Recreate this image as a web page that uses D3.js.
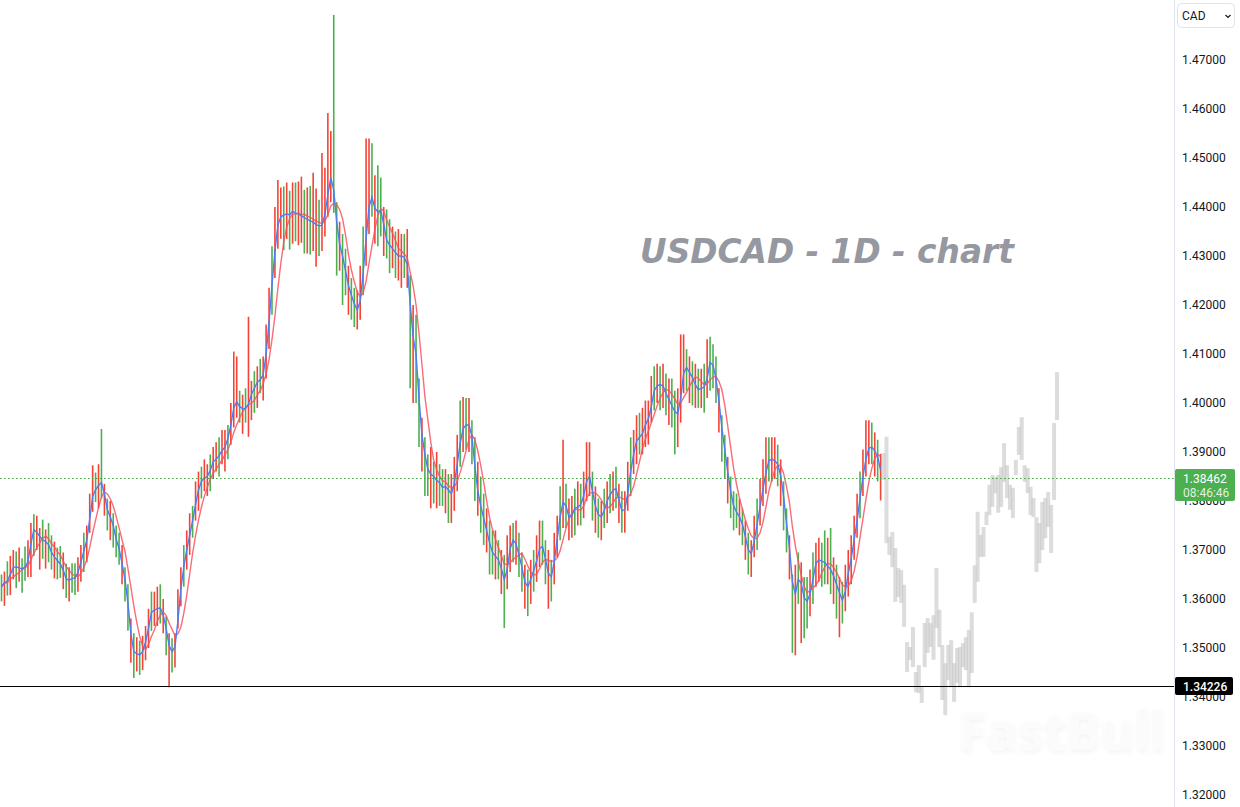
<!DOCTYPE html>
<html>
<head>
<meta charset="utf-8">
<script src="https://cdn.jsdelivr.net/npm/d3@7.9.0/dist/d3.min.js"></script>
<style>
  html, body { margin: 0; padding: 0; background: #fff; }
  svg { display: block; }
</style>
</head>
<body>
<svg id="chart" width="1240" height="807"></svg>
<script>
// ---------------------------------------------------------------------------
// Data
// ---------------------------------------------------------------------------
// daily closes, oldest first
const closes = [
  1.3625,1.3641,1.3632,1.3668,1.3660,1.3672,1.3655,1.3668,1.3662,1.3690,
  1.3735,1.3748,1.3725,1.3730,1.3712,1.3722,1.3700,1.3690,1.3682,1.3675,
  1.3668,1.3650,1.3632,1.3645,1.3638,1.3648,1.3660,1.3690,1.3705,1.3735,
  1.3790,1.3828,1.3818,1.3845,1.3830,1.3800,1.3765,1.3770,1.3730,1.3715,
  1.3690,1.3655,1.3625,1.3560,1.3500,1.3485,1.3492,1.3480,1.3505,1.3520,
  1.3560,1.3585,1.3570,1.3590,1.3575,1.3560,1.3520,1.3490,1.3495,1.3510,
  1.3600,1.3640,1.3690,1.3710,1.3750,1.3770,1.3815,1.3830,1.3850,1.3845,
  1.3855,1.3870,1.3890,1.3880,1.3905,1.3900,1.3920,1.3935,1.3975,1.4005,
  1.4000,1.3985,1.3992,1.3985,1.4010,1.4025,1.4035,1.4050,1.4045,1.4070,
  1.4130,1.4200,1.4280,1.4340,1.4385,1.4375,1.4392,1.4380,1.4388,1.4395,
  1.4380,1.4392,1.4372,1.4385,1.4365,1.4378,1.4360,1.4368,1.4355,1.4370,
  1.4400,1.4450,1.4470,1.4400,1.4340,1.4310,1.4290,1.4250,1.4230,1.4210,
  1.4195,1.4185,1.4230,1.4300,1.4370,1.4430,1.4410,1.4385,1.4395,1.4390,
  1.4340,1.4325,1.4320,1.4310,1.4305,1.4295,1.4305,1.4290,1.4275,1.4130,
  1.4140,1.4060,1.3960,1.3910,1.3880,1.3850,1.3860,1.3840,1.3845,1.3830,
  1.3825,1.3835,1.3810,1.3820,1.3850,1.3900,1.3935,1.3960,1.3950,1.3960,
  1.3905,1.3840,1.3800,1.3780,1.3750,1.3730,1.3700,1.3690,1.3685,1.3675,
  1.3650,1.3630,1.3690,1.3715,1.3725,1.3700,1.3680,1.3650,1.3620,1.3630,
  1.3650,1.3665,1.3690,1.3715,1.3700,1.3665,1.3640,1.3650,1.3700,1.3745,
  1.3790,1.3805,1.3775,1.3760,1.3780,1.3790,1.3785,1.3800,1.3820,1.3860,
  1.3840,1.3800,1.3780,1.3765,1.3770,1.3790,1.3810,1.3815,1.3830,1.3820,
  1.3785,1.3775,1.3790,1.3840,1.3880,1.3910,1.3935,1.3925,1.3950,1.3960,
  1.3975,1.4010,1.4040,1.4030,1.4045,1.4025,1.4015,1.4000,1.3990,1.3975,
  1.3980,1.4040,1.4080,1.4065,1.4060,1.4045,1.4030,1.4025,1.4035,1.4030,
  1.4070,1.4095,1.4060,1.4040,1.3970,1.3930,1.3880,1.3840,1.3800,1.3780,
  1.3775,1.3760,1.3745,1.3710,1.3690,1.3695,1.3740,1.3765,1.3810,1.3840,
  1.3875,1.3890,1.3880,1.3885,1.3865,1.3840,1.3780,1.3730,1.3680,1.3590,
  1.3630,1.3650,1.3615,1.3590,1.3600,1.3620,1.3660,1.3685,1.3675,1.3680,
  1.3670,1.3665,1.3655,1.3640,1.3620,1.3605,1.3590,1.3640,1.3665,1.3700,
  1.3740,1.3780,1.3830,1.3870,1.3900,1.3915,1.3905,1.3900,1.3880,1.3846
];

// distance of the high above the close, in pips
const upPips = [
  25,15,45,20,40,25,50,15,45,30,
  20,25,45,15,50,20,55,40,35,30,
  40,45,40,20,35,25,25,20,30,15,
  25,45,40,30,117,35,40,30,45,35,
  45,55,40,70,60,45,30,35,20,25,
  20,30,45,35,55,40,45,40,25,20,
  20,25,20,30,25,20,25,30,20,40,
  20,25,20,40,25,45,25,20,25,100,
  95,40,25,45,166,20,30,25,45,25,
  30,35,40,60,70,65,50,70,45,55,
  70,60,90,50,75,65,110,70,60,140,
  80,142,85,392,70,60,55,65,50,45,
  40,45,50,60,170,110,120,80,90,70,
  60,70,55,50,45,60,40,55,80,130,
  60,120,90,60,50,45,50,40,55,45,
  40,30,45,35,40,35,70,52,60,50,
  60,90,80,70,65,55,60,50,55,45,
  50,60,40,35,30,60,55,45,50,30,
  30,35,40,45,60,55,60,30,35,25,
  40,120,60,45,30,35,55,35,40,60,
  80,60,50,40,30,35,30,40,30,50,
  50,45,30,40,50,35,40,55,40,45,
  30,45,35,50,30,55,45,50,60,50,
  50,100,60,45,35,40,50,45,35,50,
  60,40,60,55,60,45,55,50,50,40,
  40,45,40,50,45,25,30,40,35,45,
  55,40,50,45,50,45,60,55,50,60,
  40,45,60,55,45,40,35,30,50,35,
  70,60,90,45,50,40,45,30,35,30,
  30,35,30,35,65,50,55,40,45,50
];

// distance of the low below the close, in pips
const downPips = [
  30,55,25,60,20,50,20,55,25,45,
  90,60,25,70,30,60,25,30,40,35,
  25,30,30,50,25,40,45,55,50,60,
  55,50,20,60,25,30,25,50,25,30,
  20,25,30,25,30,46,40,35,50,45,
  60,50,25,45,25,30,35,70,45,50,
  60,55,65,50,60,45,55,50,45,25,
  45,50,45,20,55,25,60,50,60,55,
  30,25,55,25,79,60,55,60,25,65,
  80,90,100,85,70,40,80,45,75,70,
  50,70,45,80,60,75,50,90,55,60,
  60,70,60,12,80,40,90,30,50,40,
  40,35,60,80,90,85,30,60,75,50,
  40,30,55,35,50,45,70,35,40,100,
  140,60,50,50,70,40,75,45,60,40,
  35,60,55,65,70,80,65,60,45,60,
  30,40,30,45,40,35,50,40,45,35,
  40,89,70,60,50,30,35,35,40,65,
  60,50,55,50,30,35,60,55,70,60,
  70,60,30,40,55,60,35,50,55,60,
  30,40,45,40,50,45,55,40,50,35,
  30,40,55,60,70,55,60,30,55,50,
  60,50,55,30,60,35,40,45,40,80,
  70,80,60,40,60,50,40,35,45,50,
  60,70,30,40,30,50,35,45,35,40,
  30,30,35,30,40,50,55,65,60,50,
  60,50,40,40,35,50,40,35,40,100,
  145,60,105,70,60,55,70,60,40,55,
  40,35,45,50,60,83,40,65,60,70,
  60,55,65,60,50,40,30,50,40,45
];

// 1 = bar drawn red (up day in this chart), 0 = green
const upDays = [
  0,1,0,1,1,0,1,0,0,1,
  1,0,1,1,0,1,0,0,1,0,
  0,1,0,1,0,0,1,1,0,1,
  1,1,0,1,0,1,0,1,0,0,
  0,1,0,0,1,0,1,0,1,1,
  1,0,1,1,0,1,0,1,0,1,
  1,1,0,1,1,0,1,1,0,1,
  1,0,1,1,0,1,1,0,1,1,
  1,0,1,0,1,1,0,1,0,1,
  1,1,0,1,1,1,0,1,0,1,
  0,1,1,0,1,0,1,1,0,1,
  1,1,1,0,0,1,0,0,1,0,
  0,1,1,0,1,1,0,1,0,0,
  1,0,0,1,0,1,1,0,1,0,
  1,0,0,1,0,0,1,0,1,0,
  0,1,0,1,1,1,0,1,0,1,
  0,0,1,0,0,1,0,0,1,0,
  1,0,1,1,0,1,0,0,1,0,
  1,0,1,1,0,0,1,0,1,1,
  0,1,0,1,1,0,1,0,1,1,
  1,0,1,0,1,0,1,0,1,0,
  1,0,1,1,0,1,1,0,1,1,
  1,1,0,1,0,1,0,1,0,0,
  1,1,1,0,1,0,1,0,1,0,
  1,0,0,0,1,0,0,1,0,0,
  0,1,0,1,0,1,1,0,1,1,
  1,0,1,1,0,1,0,0,1,0,
  1,0,1,0,0,1,0,1,1,0,
  0,1,0,1,0,1,0,1,1,1,
  1,1,0,1,1,1,0,1,0,1
];

// grey projected bars drawn to the right of the last real bar
const ghostHigh = [
  1.3898,1.3931,1.3727,1.3737,1.3704,1.3663,1.3659,1.3629,1.3512,1.3502,
  1.3543,1.3451,1.3465,1.3420,1.3551,1.3561,1.3551,1.3567,1.3663,1.3578,
  1.3506,1.3469,1.3506,1.3516,1.3469,1.3500,1.3502,1.3510,1.3522,1.3537,
  1.3573,1.3669,1.3778,1.3731,1.3747,1.3778,1.3833,1.3853,1.3849,1.3853,
  1.3869,1.3918,1.3873,1.3833,1.3827,1.3884,1.3951,1.3971,1.3873,1.3867,
  1.3829,1.3806,1.3767,1.3755,1.3798,1.3806,1.3818,1.3792,1.3959,1.4063
];
const ghostLow = [
  1.3843,1.3714,1.3690,1.3665,1.3594,1.3604,1.3592,1.3543,1.3451,1.3476,
  1.3461,1.3410,1.3408,1.3388,1.3461,1.3490,1.3502,1.3476,1.3541,1.3502,
  1.3394,1.3363,1.3435,1.3420,1.3390,1.3429,1.3420,1.3461,1.3455,1.3420,
  1.3449,1.3592,1.3635,1.3686,1.3686,1.3751,1.3771,1.3788,1.3816,1.3776,
  1.3788,1.3839,1.3806,1.3782,1.3765,1.3853,1.3894,1.3884,1.3839,1.3816,
  1.3771,1.3767,1.3655,1.3673,1.3700,1.3724,1.3747,1.3694,1.3802,1.3965
];

const priceTicks = [1.32, 1.33, 1.34, 1.35, 1.36, 1.37, 1.38, 1.39,
                    1.40, 1.41, 1.42, 1.43, 1.44, 1.45, 1.46, 1.47];

const lastPrice = 1.38462;
const lastTime = '08:46:46';
const levelPrice = 1.34226;
const currency = 'CAD';
const title = 'USDCAD - 1D - chart';

// moving average lengths
const fastLen = 2;
const slowLen = 6;

// ---------------------------------------------------------------------------
// Scales
// ---------------------------------------------------------------------------
const svg = d3.select('#chart');
const plotRight = 1174;

const y = d3.scaleLinear().domain([1.32, 1.47]).range([795, 60]);
const x = d3.scaleLinear().domain([0, closes.length - 1]).range([1.5, 880.6]);

const bars = closes.map((c, i) => ({
  i,
  close: c,
  high: c + upPips[i] / 10000,
  low: c - downPips[i] / 10000,
  rising: upDays[i] === 1
}));

const ghosts = ghostHigh.map((h, k) => ({ i: closes.length + k, high: h, low: ghostLow[k] }));

function sma(vals, n) {
  return vals.map((v, i) => d3.mean(vals.slice(Math.max(0, i - n + 1), i + 1)));
}
const fast = sma(closes, fastLen);
const slow = sma(closes, slowLen);

// ---------------------------------------------------------------------------
// Plot area
// ---------------------------------------------------------------------------
const defs = svg.append('defs');
defs.append('clipPath').attr('id', 'plot')
  .append('rect').attr('x', 0).attr('y', 0).attr('width', plotRight).attr('height', 807);

const shadow = defs.append('filter').attr('id', 'wm').attr('x', '-10%').attr('y', '-30%')
  .attr('width', '130%').attr('height', '160%');
shadow.append('feDropShadow').attr('dx', 0).attr('dy', 2).attr('stdDeviation', 2.5)
  .attr('flood-color', '#000').attr('flood-opacity', 0.05);

const plot = svg.append('g').attr('clip-path', 'url(#plot)');

// watermark
plot.append('text')
  .attr('x', 1166).attr('y', 750)
  .attr('text-anchor', 'end')
  .attr('font-family', '"Noto Sans", sans-serif')
  .attr('font-weight', 700)
  .attr('font-size', 52)
  .attr('fill', '#fbfbfb')
  .attr('filter', 'url(#wm)')
  .text('FastBull');

// grey projection
plot.append('g').selectAll('rect')
  .data(ghosts)
  .join('rect')
  .attr('x', d => x(d.i) - 2)
  .attr('width', 4)
  .attr('y', d => y(d.high))
  .attr('height', d => y(d.low) - y(d.high))
  .attr('fill', '#c4c4c4')
  .attr('fill-opacity', 0.6);

// daily bars (red = rising, green = falling as in the reference)
plot.append('g').selectAll('line')
  .data(bars)
  .join('line')
  .attr('x1', d => x(d.i)).attr('x2', d => x(d.i))
  .attr('y1', d => y(d.high)).attr('y2', d => y(d.low))
  .attr('stroke', d => d.rising ? '#f44336' : '#4caf50')
  .attr('stroke-width', 1.6);

// moving averages
const maLine = d3.line().x((d, i) => x(i)).y(d => y(d));
plot.append('path').datum(slow)
  .attr('d', maLine).attr('fill', 'none')
  .attr('stroke', '#f7525f').attr('stroke-opacity', 0.85).attr('stroke-width', 1.4);
plot.append('path').datum(fast)
  .attr('d', maLine).attr('fill', 'none')
  .attr('stroke', '#4d7cf3').attr('stroke-width', 1.4);

// last price dotted line
plot.append('line')
  .attr('x1', 0).attr('x2', plotRight)
  .attr('y1', Math.round(y(lastPrice)) + 0.5).attr('y2', Math.round(y(lastPrice)) + 0.5)
  .attr('stroke', '#43a047').attr('stroke-width', 1.2)
  .attr('stroke-dasharray', '1.5 2.5');

// horizontal level
plot.append('line')
  .attr('x1', 0).attr('x2', plotRight)
  .attr('y1', Math.round(y(levelPrice)) + 0.5).attr('y2', Math.round(y(levelPrice)) + 0.5)
  .attr('stroke', '#000').attr('stroke-width', 1);

// title
svg.append('text')
  .attr('x', 640).attr('y', 263)
  .attr('font-family', '"DejaVu Sans", sans-serif')
  .attr('font-weight', 'bold')
  .attr('font-style', 'italic')
  .attr('font-size', 32.8)
  .attr('fill', '#9598a1')
  .text(title);

// ---------------------------------------------------------------------------
// Price scale
// ---------------------------------------------------------------------------
svg.append('line')
  .attr('x1', plotRight + 0.5).attr('x2', plotRight + 0.5)
  .attr('y1', 0).attr('y2', 807)
  .attr('stroke', '#e0e3eb');

const axis = svg.append('g')
  .attr('transform', `translate(${plotRight},0)`)
  .call(d3.axisRight(y).tickValues(priceTicks).tickFormat(d3.format('.5f')).tickSize(0).tickPadding(8));
axis.select('.domain').remove();
axis.selectAll('text')
  .attr('font-family', 'Roboto, sans-serif')
  .attr('font-size', 12)
  .attr('fill', '#131722');

// currency selector
svg.append('rect')
  .attr('x', 1177.5).attr('y', 3.5).attr('width', 57).attr('height', 24).attr('rx', 4)
  .attr('fill', '#fff').attr('stroke', '#e0e3eb');
svg.append('text')
  .attr('x', 1182).attr('y', 20)
  .attr('font-family', 'Roboto, sans-serif').attr('font-size', 12)
  .attr('fill', '#131722')
  .text(currency);
svg.append('path')
  .attr('d', 'M1225.5,15 l2.5,2.5 l2.5,-2.5')
  .attr('fill', 'none').attr('stroke', '#131722').attr('stroke-width', 1.2);

// last price label (drawn over the 1.38000 tick, as in the reference)
const ly = Math.round(y(lastPrice));
svg.append('rect')
  .attr('x', plotRight + 1).attr('y', ly - 9).attr('width', 60).attr('height', 32)
  .attr('rx', 2).attr('fill', '#4caf50');
svg.append('text')
  .attr('x', 1183).attr('y', ly + 5)
  .attr('font-family', 'Roboto, sans-serif').attr('font-size', 12)
  .attr('fill', '#fff')
  .text(lastPrice.toFixed(5));
svg.append('text')
  .attr('x', 1183).attr('y', ly + 19)
  .attr('font-family', 'Roboto, sans-serif').attr('font-size', 12)
  .attr('fill', '#fff').attr('fill-opacity', 0.85)
  .text(lastTime);

// level label (drawn over the 1.34000 tick)
const lv = Math.round(y(levelPrice));
svg.append('rect')
  .attr('x', plotRight + 1).attr('y', lv - 9).attr('width', 58).attr('height', 18)
  .attr('rx', 2).attr('fill', '#000');
svg.append('text')
  .attr('x', 1183).attr('y', lv + 5)
  .attr('font-family', 'Roboto, sans-serif').attr('font-size', 12)
  .attr('font-weight', 500)
  .attr('fill', '#fff')
  .text(levelPrice.toFixed(5));
</script>
</body>
</html>
